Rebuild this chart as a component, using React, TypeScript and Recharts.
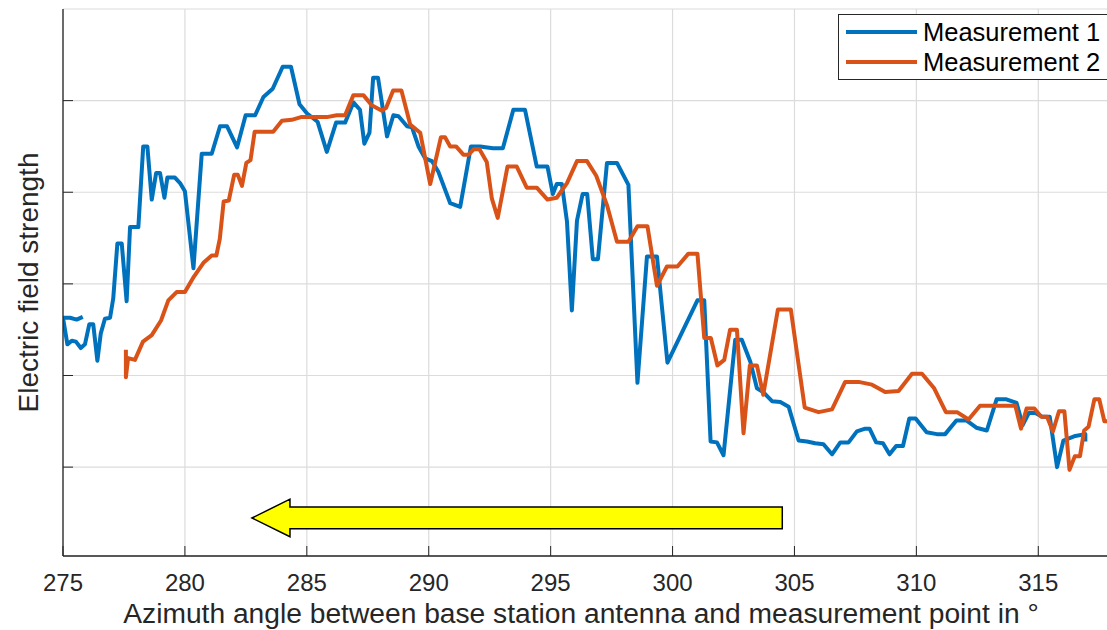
import React from 'react';
import { LineChart, Line, XAxis, YAxis, CartesianGrid, Legend, ReferenceArea } from 'recharts';

// ---------- data ----------
const xTicks = [275, 280, 285, 290, 295, 300, 305, 310, 315];
const yTicks = [1, 2, 3, 4, 5];
const xDomain: [number, number] = [275, 317.9];
const yDomain: [number, number] = [0.03, 6];

const seriesNames = ['Measurement 1', 'Measurement 2'];
const seriesColors = ['#0072BD', '#D95319'];

const m1Angle = [
  275.81, 275.56, 275.29, 275.0, 275.18, 275.36, 275.53, 275.73, 275.9, 276.08,
  276.24, 276.41, 276.55, 276.72, 276.93, 277.06, 277.23, 277.41, 277.61, 277.75,
  278.09, 278.29, 278.46, 278.64, 278.82, 278.98, 279.16, 279.28, 279.59, 279.8,
  280.0, 280.35, 280.69, 281.1, 281.44, 281.73, 282.14, 282.49, 282.88, 283.22,
  283.6, 284.01, 284.35, 284.7, 285.01, 285.44, 285.82, 286.2, 286.57, 286.91,
  287.18, 287.36, 287.57, 287.72, 287.92, 288.29, 288.55, 288.76, 289.11, 289.31,
  289.58, 289.85, 290.13, 290.4, 290.88, 291.29, 291.73, 292.11, 292.63, 293.04,
  293.47, 293.95, 294.43, 294.87, 295.09, 295.25, 295.46, 295.67, 295.87, 296.08,
  296.31, 296.5, 296.73, 296.94, 297.31, 297.72, 298.19, 298.56, 298.95, 299.36,
  299.79, 301.02, 301.3, 301.56, 301.82, 302.09, 302.57, 302.84, 303.19, 303.46,
  303.71, 304.08, 304.42, 304.76, 305.17, 305.51, 305.85, 306.19, 306.54, 306.88,
  307.22, 307.56, 307.9, 308.08, 308.35, 308.63, 308.9, 309.17, 309.45, 309.71,
  309.97, 310.42, 310.84, 311.18, 311.64, 312.05, 312.46, 312.89, 313.29, 313.69,
  314.11, 314.36, 314.61, 314.88, 315.16, 315.47, 315.77, 316.03, 316.52, 316.93,
  316.93,
];
const m1Value = [
  2.64, 2.61, 2.63, 2.63, 2.34, 2.38, 2.37, 2.3, 2.34, 2.56,
  2.56, 2.16, 2.46, 2.62, 2.63, 2.84, 3.44, 3.44, 2.81, 3.62,
  3.62, 4.5, 4.5, 3.92, 4.21, 4.21, 3.94, 4.16, 4.16, 4.1,
  4.01, 3.17, 4.42, 4.42, 4.72, 4.72, 4.49, 4.84, 4.84, 5.04,
  5.13, 5.37, 5.37, 4.96, 4.86, 4.77, 4.44, 4.76, 4.76, 4.98,
  4.9, 4.53, 4.65, 5.25, 5.25, 4.61, 4.84, 4.83, 4.72, 4.71,
  4.5, 4.37, 4.34, 4.22, 3.88, 3.84, 4.5, 4.5, 4.48, 4.48,
  4.9, 4.9, 4.28, 4.28, 3.98, 4.09, 4.09, 3.68, 2.71, 3.69,
  3.98, 3.98, 3.27, 3.27, 4.32, 4.32, 4.08, 1.92, 3.3, 3.3,
  2.14, 2.82, 2.82, 1.28, 1.27, 1.13, 2.39, 2.39, 2.15, 1.86,
  1.82, 1.72, 1.71, 1.66, 1.29, 1.28, 1.26, 1.25, 1.14, 1.27,
  1.27, 1.39, 1.42, 1.42, 1.27, 1.26, 1.14, 1.23, 1.23, 1.53,
  1.53, 1.38, 1.36, 1.36, 1.51, 1.51, 1.43, 1.4, 1.74, 1.74,
  1.7, 1.46, 1.59, 1.59, 1.55, 1.55, 1.0, 1.29, 1.34, 1.36,
  1.28,
];

const m2Angle = [
  277.58, 277.58, 277.67, 277.95, 278.28, 278.64, 279.02, 279.32, 279.66, 280.0,
  280.37, 280.76, 281.1, 281.29, 281.43, 281.59, 281.8, 282.02, 282.17, 282.34,
  282.52, 282.69, 282.86, 283.62, 283.98, 284.38, 284.76, 285.82, 286.23, 286.57,
  286.91, 287.32, 287.66, 288.08, 288.25, 288.54, 288.88, 289.24, 289.65, 290.06,
  290.5, 290.67, 290.88, 291.12, 291.42, 291.63, 291.86, 292.08, 292.38, 292.59,
  292.83, 293.23, 293.61, 294.02, 294.43, 294.87, 295.25, 295.67, 296.08, 296.49,
  296.87, 297.31, 297.72, 298.19, 298.56, 298.97, 299.36, 299.77, 300.2, 300.65,
  301.02, 301.3, 301.57, 301.84, 302.12, 302.36, 302.64, 302.91, 303.17, 303.46,
  303.72, 304.32, 304.85, 305.42, 305.99, 306.54, 307.08, 307.63, 308.18, 308.72,
  309.27, 309.82, 310.23, 310.73, 311.21, 311.67, 312.14, 312.61, 314.06, 314.29,
  314.52, 314.84, 315.12, 315.36, 315.6, 315.85, 316.07, 316.28, 316.5, 316.71,
  316.88, 317.06, 317.3, 317.5, 317.71, 318.04,
];
const m2Value = [
  2.28, 1.98, 2.19, 2.17, 2.37, 2.44, 2.6, 2.82, 2.91, 2.91,
  3.08, 3.23, 3.31, 3.31, 3.49, 3.9, 3.91, 4.19, 4.19, 4.07,
  4.32, 4.35, 4.66, 4.66, 4.78, 4.79, 4.82, 4.82, 4.84, 4.84,
  5.06, 5.06, 4.95, 4.89, 4.92, 5.11, 5.11, 4.74, 4.65, 4.09,
  4.6, 4.6, 4.5, 4.5, 4.41, 4.41, 4.47, 4.47, 4.33, 3.93,
  3.72, 4.28, 4.28, 4.05, 4.05, 3.92, 3.94, 4.1, 4.34, 4.34,
  4.18, 3.86, 3.46, 3.46, 3.63, 3.63, 2.98, 3.19, 3.19, 3.33,
  3.33, 2.41, 2.41, 2.11, 2.17, 2.5, 2.5, 1.37, 2.11, 2.11,
  1.79, 2.72, 2.72, 1.65, 1.6, 1.63, 1.93, 1.93, 1.9, 1.82,
  1.83, 2.02, 2.02, 1.86, 1.6, 1.6, 1.52, 1.67, 1.67, 1.42,
  1.64, 1.64, 1.55, 1.55, 1.39, 1.61, 1.61, 0.97, 1.12, 1.12,
  1.4, 1.44, 1.74, 1.74, 1.5, 1.5,
];

// arrow annotation (data units)
const arrowAngles = [282.75, 304.5];
const arrowLevels = [0.24, 0.65];

const xLabel = 'Azimuth angle between base station antenna and measurement point in °';
const yLabel = 'Electric field strength';

const m1 = m1Angle.map((a, i) => ({ angle: a, value: m1Value[i] }));
const m2 = m2Angle.map((a, i) => ({ angle: a, value: m2Value[i] }));

// ---------- styling ----------
const FONT = '"Liberation Sans", Arial, Helvetica, sans-serif';
const AXIS = '#262626';
const TICK_LEN = 10;

const BottomTick = (p: any) => (
  <g>
    <line x1={p.x} x2={p.x} y1={p.y} y2={p.y - TICK_LEN} stroke={AXIS} strokeWidth={1} />
    <text x={p.x} y={p.y + 34.5} textAnchor="middle" fontSize={24} fontFamily={FONT} fill={AXIS}>
      {p.payload.value}
    </text>
  </g>
);
const TopTick = (p: any) => (
  <line x1={p.x} x2={p.x} y1={p.y} y2={p.y + TICK_LEN} stroke={AXIS} strokeWidth={1} />
);
const LeftTick = (p: any) => (
  <line x1={p.x} x2={p.x + TICK_LEN} y1={p.y} y2={p.y} stroke={AXIS} strokeWidth={1} />
);
const RightTick = (p: any) => (
  <line x1={p.x} x2={p.x - TICK_LEN} y1={p.y} y2={p.y} stroke={AXIS} strokeWidth={1} />
);

const ArrowShape = (p: any) => {
  const { x, y, width, height } = p;
  const head = 38;
  const st = y + height * 0.21;
  const sb = y + height * 0.79;
  const pts = [
    [x, y + height / 2],
    [x + head, y],
    [x + head, st],
    [x + width, st],
    [x + width, sb],
    [x + head, sb],
    [x + head, y + height],
  ]
    .map((q) => q.join(','))
    .join(' ');
  return <polygon points={pts} fill="#FFFF00" stroke="#000" strokeWidth={1.5} strokeLinejoin="miter" />;
};

const renderLegend = (props: any) => (
  <div
    style={{
      background: '#fff',
      border: '1px solid #262626',
      boxSizing: 'border-box',
      width: 285,
      height: 66,
      paddingTop: 2,
      fontFamily: FONT,
    }}
  >
    {(props.payload || []).map((e: any) => (
      <div key={e.value} style={{ display: 'flex', alignItems: 'center', height: 30 }}>
        <svg width={84} height={30} style={{ display: 'block' }}>
          <line x1={7} x2={78} y1={15} y2={15} stroke={e.color} strokeWidth={4} />
        </svg>
        <span style={{ fontSize: 25.5, color: '#000', lineHeight: '30px', whiteSpace: 'nowrap' }}>{e.value}</span>
      </div>
    ))}
  </div>
);

export default function App() {
  return (
    <div style={{ position: 'absolute', left: 0, top: 0, width: 1107, height: 630, overflow: 'hidden', background: '#fff' }}>
      <LineChart width={1130} height={630} margin={{ top: 9, right: 21, bottom: 0, left: 0 }}>
        <CartesianGrid stroke="#dcdcdc" strokeWidth={1.2} />
        <XAxis
          dataKey="angle"
          type="number"
          domain={xDomain}
          ticks={xTicks}
          interval={0}
          allowDataOverflow
          height={74}
          tickSize={0}
          tickMargin={0}
          tick={<BottomTick />}
          axisLine={{ stroke: AXIS, strokeWidth: 1.3 }}
          label={{
            content: (lp: any) => {
              const vb = lp.viewBox;
              return (
                <text
                  x={vb.x + vb.width / 2 - 5}
                  y={vb.y + 67}
                  textAnchor="middle"
                  fontSize={28.2}
                  fontFamily={FONT}
                  fill={AXIS}
                >
                  {xLabel}
                </text>
              );
            },
          }}
        />
        <XAxis
          xAxisId="top"
          orientation="top"
          dataKey="angle"
          type="number"
          domain={xDomain}
          ticks={xTicks}
          interval={0}
          allowDataOverflow
          height={0}
          tickSize={0}
          tickMargin={0}
          tick={<TopTick />}
          axisLine={{ stroke: AXIS, strokeWidth: 1.3 }}
        />
        <YAxis
          type="number"
          domain={yDomain}
          ticks={yTicks}
          interval={0}
          allowDataOverflow
          width={63}
          tickSize={0}
          tickMargin={0}
          tick={<LeftTick />}
          axisLine={{ stroke: AXIS, strokeWidth: 1.3 }}
          label={{
            content: (lp: any) => {
              const vb = lp.viewBox;
              const cy = vb.y + vb.height / 2;
              return (
                <text
                  x={38}
                  y={cy}
                  transform={`rotate(-90, 38, ${cy})`}
                  textAnchor="middle"
                  fontSize={28}
                  fontFamily={FONT}
                  fill={AXIS}
                >
                  {yLabel}
                </text>
              );
            },
          }}
        />
        <YAxis
          yAxisId="right"
          orientation="right"
          type="number"
          domain={yDomain}
          ticks={yTicks}
          interval={0}
          allowDataOverflow
          width={0}
          tickSize={0}
          tickMargin={0}
          tick={<RightTick />}
          axisLine={{ stroke: AXIS, strokeWidth: 1.3 }}
        />
        <ReferenceArea
          x1={arrowAngles[0]}
          x2={arrowAngles[1]}
          y1={arrowLevels[0]}
          y2={arrowLevels[1]}
          shape={<ArrowShape />}
        />
        <Line
          data={m1}
          dataKey="value"
          name={seriesNames[0]}
          stroke={seriesColors[0]}
          strokeWidth={4}
          dot={false}
          activeDot={false}
          type="linear"
          strokeLinejoin="round"
          isAnimationActive={false}
        />
        <Line
          data={m2}
          dataKey="value"
          name={seriesNames[1]}
          stroke={seriesColors[1]}
          strokeWidth={4}
          dot={false}
          activeDot={false}
          type="linear"
          strokeLinejoin="round"
          isAnimationActive={false}
        />
        <Legend
          layout="vertical"
          align="center"
          verticalAlign="middle"
          content={renderLegend}
          wrapperStyle={{ left: 838, top: 14, width: 285, height: 66 }}
        />
      </LineChart>
    </div>
  );
}
